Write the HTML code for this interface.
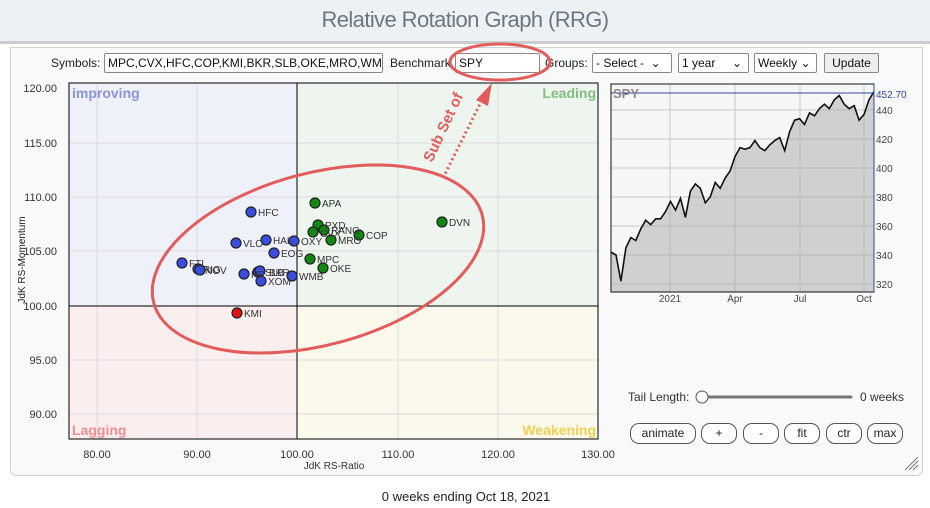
<!DOCTYPE html>
<html><head><meta charset="utf-8"><style>
*{margin:0;padding:0;box-sizing:border-box}
body{width:930px;height:508px;background:#fff;font-family:"Liberation Sans",sans-serif;position:relative;overflow:hidden}
.hdr{position:absolute;left:0;top:0;width:930px;height:44px;background:#eef1f4;border-bottom:3px solid #c9ced3;text-align:center;font-size:22px;color:#6b7780;line-height:40px;letter-spacing:-0.6px}
.panel{position:absolute;left:10px;top:47px;width:913px;height:429px;background:#f8f9fa;border:1px solid #d0d0d0;border-radius:0 0 6px 6px}
.ab{position:absolute;font-size:12px;color:#222}
.in{position:absolute;height:20px;border:1px solid #888;background:#fff;font-size:12px;line-height:18px;padding-left:3px;color:#111;border-radius:2px;overflow:hidden;white-space:nowrap}
.btn{position:absolute;height:21px;border:1px solid #555;border-radius:9px;background:#fff;font-size:12px;text-align:center;line-height:19px;color:#222}
</style></head><body>
<div class="hdr">Relative Rotation Graph (RRG)</div>
<div class="panel"></div>
<div class="ab" style="left:51px;top:56px">Symbols:</div>
<div class="in" style="left:104px;top:53px;width:279px">MPC,CVX,HFC,COP,KMI,BKR,SLB,OKE,MRO,WM</div>
<div class="ab" style="left:390px;top:56px">Benchmark</div>
<div class="in" style="left:455px;top:53px;width:85px">SPY</div>
<div class="ab" style="left:545px;top:56px">Groups:</div>
<div class="in" style="left:592px;top:53px;width:80px">- Select - &nbsp;⌄</div>
<div class="in" style="left:678px;top:53px;width:71px">1 year &nbsp; &nbsp; ⌄</div>
<div class="in" style="left:754px;top:53px;width:63px">Weekly ⌄</div>
<div class="in" style="left:824px;top:53px;width:55px;background:#eee;text-align:center;padding:0">Update</div>
<svg width="930" height="508" style="position:absolute;left:0;top:0" font-family="Liberation Sans,sans-serif">
<rect x="69" y="83" width="228" height="223" fill="#eef0fa"/>
<rect x="297" y="83" width="301" height="223" fill="#eef4ee"/>
<rect x="69" y="306" width="228" height="133" fill="#fbeeee"/>
<rect x="297" y="306" width="301" height="133" fill="#fbf8ec"/>
<g stroke="#dcdcdc" stroke-width="1">
<line x1="97" y1="83" x2="97" y2="439"/><line x1="197" y1="83" x2="197" y2="439"/><line x1="398" y1="83" x2="398" y2="439"/><line x1="498" y1="83" x2="498" y2="439"/>
<line x1="69" y1="143" x2="598" y2="143"/><line x1="69" y1="197" x2="598" y2="197"/><line x1="69" y1="251" x2="598" y2="251"/><line x1="69" y1="360" x2="598" y2="360"/><line x1="69" y1="414" x2="598" y2="414"/>
</g>
<line x1="297" y1="83" x2="297" y2="439" stroke="#000"/>
<line x1="69" y1="306" x2="598" y2="306" stroke="#000"/>
<rect x="69" y="83" width="529" height="356" fill="none" stroke="#000"/>
<g font-size="14" font-weight="bold">
<text x="72" y="98" fill="#8c93dc">improving</text>
<text x="596" y="98" fill="#7fbf7f" text-anchor="end">Leading</text>
<text x="72" y="435" fill="#f09090">Lagging</text>
<text x="596" y="435" fill="#f0d050" text-anchor="end">Weakening</text>
</g>
<g font-size="11" fill="#333" text-anchor="end">
<text x="57" y="92">120.00</text><text x="57" y="147">115.00</text><text x="57" y="201">110.00</text><text x="57" y="255">105.00</text><text x="57" y="310">100.00</text><text x="57" y="364">95.00</text><text x="57" y="418">90.00</text>
</g>
<g font-size="11" fill="#333" text-anchor="middle">
<text x="97" y="458">80.00</text><text x="197" y="458">90.00</text><text x="297" y="458">100.00</text><text x="398" y="458">110.00</text><text x="498" y="458">120.00</text><text x="598" y="458">130.00</text>
<text x="334" y="469" font-size="10">JdK RS-Ratio</text>
</g>
<text transform="translate(25,260) rotate(-90)" font-size="10" fill="#222" text-anchor="middle">JdK RS-Momentum</text>
<g stroke="#222" stroke-width="1.2">
<g fill="#3a4de0">
<circle cx="251" cy="212" r="5"/><circle cx="236" cy="243" r="5"/><circle cx="266" cy="240" r="5"/><circle cx="294" cy="241" r="5"/><circle cx="274" cy="253" r="5"/><circle cx="182" cy="263" r="5"/><circle cx="198" cy="269" r="5"/><circle cx="200" cy="270" r="5"/><circle cx="244" cy="274" r="5"/><circle cx="258" cy="272" r="5"/><circle cx="260" cy="271" r="5"/><circle cx="261" cy="281" r="5"/><circle cx="292" cy="276" r="5"/>
</g>
<g fill="#118811">
<circle cx="315" cy="203" r="5"/><circle cx="442" cy="222" r="5"/><circle cx="318" cy="225" r="5"/><circle cx="313" cy="232" r="5"/><circle cx="324" cy="230" r="5"/><circle cx="359" cy="235" r="5"/><circle cx="331" cy="240" r="5"/><circle cx="310" cy="259" r="5"/><circle cx="323" cy="268" r="5"/>
</g>
<circle cx="237" cy="313" r="5" fill="#e01010"/>
</g>
<g font-size="10" fill="#333">
<text x="258" y="216">HFC</text><text x="243" y="247">VLO</text><text x="273" y="244">HAL</text><text x="301" y="245">OXY</text><text x="281" y="257">EOG</text><text x="189" y="267">FTI</text><text x="205" y="274">NOV</text><text x="203" y="273">RIG</text><text x="251" y="278">HP</text><text x="265" y="276">SLB</text><text x="269" y="276">BKR</text><text x="268" y="285">XOM</text><text x="299" y="280">WMB</text>
<text x="322" y="207">APA</text><text x="449" y="226">DVN</text><text x="325" y="229">PXD</text><text x="320" y="237">CVX</text><text x="331" y="234">RANG</text><text x="366" y="239">COP</text><text x="338" y="244">MRO</text><text x="317" y="263">MPC</text><text x="330" y="272">OKE</text><text x="244" y="317">KMI</text>
</g>
<ellipse cx="318" cy="259" rx="170" ry="86" transform="rotate(-15 318 259)" fill="none" stroke="#e25c5c" stroke-width="3"/>
<ellipse cx="500" cy="62" rx="50" ry="18" fill="none" stroke="#e25c5c" stroke-width="3"/>
<line x1="443" y1="178" x2="480" y2="104" stroke="#e25c5c" stroke-width="3" stroke-dasharray="2 3"/>
<polygon points="492,83 476,100 488,106" fill="#e25c5c"/>
<text transform="translate(432,163) rotate(-65)" font-size="15" font-weight="bold" fill="#e25c5c">Sub Set of</text>
<rect x="611" y="84" width="263" height="208" fill="#f6f6f6"/>
<g stroke="#c8c8c8"><line x1="670" y1="84" x2="670" y2="292"/><line x1="735" y1="84" x2="735" y2="292"/><line x1="800" y1="84" x2="800" y2="292"/><line x1="864" y1="84" x2="864" y2="292"/>
<line x1="611" y1="110" x2="874" y2="110"/><line x1="611" y1="139" x2="874" y2="139"/><line x1="611" y1="168" x2="874" y2="168"/><line x1="611" y1="197" x2="874" y2="197"/><line x1="611" y1="226" x2="874" y2="226"/><line x1="611" y1="255" x2="874" y2="255"/><line x1="611" y1="284" x2="874" y2="284"/></g>
<polygon id="ar" fill="rgba(170,170,170,0.5)" stroke="none" points=""/>
<polyline id="pl" fill="none" stroke="#111" stroke-width="1.6" points=""/>
<line x1="611" y1="93" x2="874" y2="93" stroke="#3344aa"/>
<rect x="611" y="84" width="263" height="208" fill="none" stroke="#111"/>
<line x1="874" y1="84" x2="874" y2="292" stroke="#3344aa"/>
<text x="613" y="98" font-size="13" font-weight="bold" fill="#888">SPY</text>
<g font-size="10" fill="#444"><text x="876" y="98" fill="#3344aa">452.70</text><text x="876" y="114">440</text><text x="876" y="143">420</text><text x="876" y="172">400</text><text x="876" y="201">380</text><text x="876" y="230">360</text><text x="876" y="259">340</text><text x="876" y="288">320</text></g>
<g font-size="10" fill="#444" text-anchor="middle"><text x="670" y="302">2021</text><text x="735" y="302">Apr</text><text x="800" y="302">Jul</text><text x="864" y="302">Oct</text></g>
<text x="628" y="401" font-size="12" fill="#333">Tail Length:</text>
<line x1="700" y1="397" x2="851" y2="397" stroke="#777" stroke-width="3" stroke-linecap="round"/>
<circle cx="702" cy="397" r="6" fill="#fff" stroke="#555"/>
<text x="904" y="401" font-size="12" fill="#333" text-anchor="end">0 weeks</text>
<g stroke="#777" stroke-width="1"><line x1="905" y1="470" x2="918" y2="457"/><line x1="909" y1="470" x2="918" y2="461"/><line x1="913" y1="470" x2="918" y2="465"/></g>
<text x="466" y="501" font-size="13" fill="#222" text-anchor="middle">0 weeks ending Oct 18, 2021</text>
</svg>
<div class="btn" style="left:630px;top:423px;width:66px">animate</div>
<div class="btn" style="left:701px;top:423px;width:36px">+</div>
<div class="btn" style="left:743px;top:423px;width:36px">-</div>
<div class="btn" style="left:784px;top:423px;width:36px">fit</div>
<div class="btn" style="left:826px;top:423px;width:36px">ctr</div>
<div class="btn" style="left:867px;top:423px;width:36px">max</div>
<script>
var v=[342,340,322,345,352,350,358,364,361,365,365,370,377,371,379,366,384,389,386,376,380,390,386,393,398,408,414,413,414,419,414,412,416,419,421,412,425,433,434,430,438,436,441,444,441,447,450,444,441,443,433,437,447,452.7];
var p=[];for(var i=0;i<v.length;i++){var x=611+i*263/(v.length-1);var y=284-(v[i]-320)*1.45;p.push(x.toFixed(1)+","+y.toFixed(1));}
document.getElementById('pl').setAttribute('points',p.join(' '));
document.getElementById('ar').setAttribute('points',"611,292 "+p.join(' ')+" 874,292");
</script>
</body></html>
